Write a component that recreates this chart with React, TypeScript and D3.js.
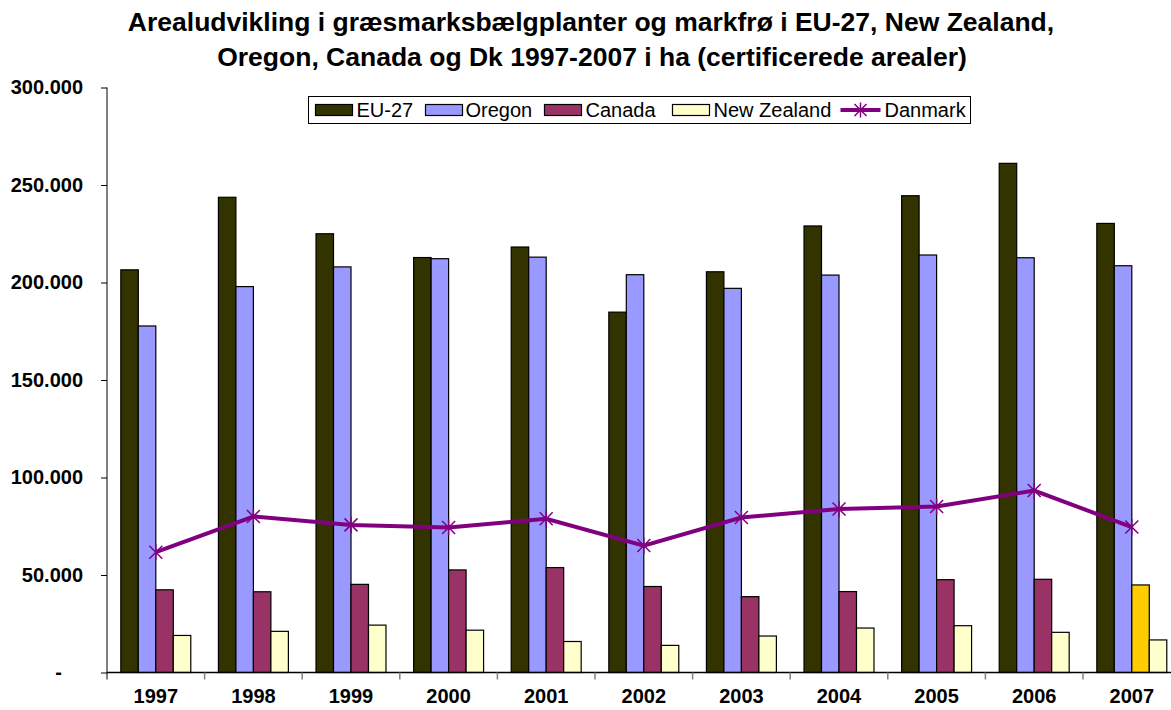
import React, { useEffect, useRef } from "react";
import * as d3 from "d3";

const years = ["1997", "1998", "1999", "2000", "2001", "2002", "2003", "2004", "2005", "2006", "2007"];
const seriesNames = ["EU-27", "Oregon", "Canada", "New Zealand"];
const eu27 = [206500, 243700, 225000, 212800, 218200, 184800, 205500, 229000, 244500, 261100, 230300];
const oregon = [177700, 197900, 208000, 212200, 213000, 204000, 197000, 203800, 214100, 212700, 208600];
const canada = [42400, 41400, 45200, 52600, 53800, 44100, 38900, 41500, 47600, 47800, 44900];
const newZealand = [19000, 21100, 24300, 21700, 15900, 13900, 18700, 22800, 24000, 20600, 16700];
const danmark = [61700, 80000, 75700, 74400, 78800, 65100, 79500, 83800, 85100, 93300, 74600];
const yTicks = [0, 50000, 100000, 150000, 200000, 250000, 300000];
const colors = ["#333300", "#9999FF", "#993366", "#FFFFCC"];
const highlightColor = "#FFCC00"; // Canada 2007 drawn in yellow in the source
const lineColor = "#800080";

const W = 1171;
const H = 710;
const font = "Arial, 'Liberation Sans', sans-serif";

export default function App() {
  const ref = useRef<SVGSVGElement>(null);

  useEffect(() => {
    const svg = d3.select(ref.current);
    svg.selectAll("*").remove();

    const left = 107, top = 87.5, bottom = 672.5;
    const step = 97.6;

    const x = d3.scaleBand().domain(years).range([left, left + step * years.length]);
    const xs = d3.scaleBand().domain(seriesNames).range([0, x.bandwidth()]).paddingOuter(0.79);
    const y = d3.scaleLinear().domain([0, 300000]).range([bottom, top]);

    const values = [eu27, oregon, canada, newZealand];

    // title
    const title = svg.append("text")
      .attr("text-anchor", "middle")
      .attr("font-family", font)
      .attr("font-weight", "bold")
      .attr("font-size", "26.5px");
    title.append("tspan").attr("x", 591).attr("y", 31)
      .text("Arealudvikling i græsmarksbælgplanter og markfrø i EU-27, New Zealand,");
    title.append("tspan").attr("x", 592).attr("y", 66)
      .text("Oregon, Canada og Dk 1997-2007 i ha (certificerede arealer)");

    // bars
    seriesNames.forEach((s, si) => {
      svg.append("g").selectAll("rect").data(values[si]).enter().append("rect")
        .attr("x", (d, i) => (x(years[i]) as number) + (xs(s) as number))
        .attr("y", d => y(d))
        .attr("width", xs.bandwidth())
        .attr("height", d => bottom - y(d))
        .attr("fill", (d, i) => (s === "Canada" && years[i] === "2007" ? highlightColor : colors[si]))
        .attr("stroke", "#000")
        .attr("stroke-width", 1.2);
    });

    // y axis
    const yAxis = d3.axisLeft(y)
      .tickValues(yTicks)
      .tickSize(6)
      .tickSizeOuter(0)
      .tickPadding(18)
      .tickFormat(d => (d === 0 ? "-" : d3.format(",")(d as number).replace(/,/g, ".")));
    const ya = svg.append("g").attr("transform", `translate(${left},0)`).call(yAxis);
    ya.select(".domain").attr("stroke", "#808080").attr("stroke-width", 2)
      .attr("d", `M0,${top}V${bottom + 7}`);
    ya.selectAll(".tick line").attr("stroke", "#000");
    ya.selectAll("text")
      .attr("font-family", font)
      .attr("font-weight", "bold")
      .attr("font-size", "20px")
      .attr("fill", "#000");
    ya.selectAll(".tick text").filter((d: any) => d === 0).attr("x", -45);

    // x axis
    const xa = svg.append("g");
    xa.append("line")
      .attr("x1", left).attr("x2", left + step * years.length)
      .attr("y1", bottom).attr("y2", bottom)
      .attr("stroke", "#000").attr("stroke-width", 1.5);
    xa.selectAll("line.tk").data(years.slice(1)).enter().append("line")
      .attr("class", "tk")
      .attr("x1", d => x(d) as number).attr("x2", d => x(d) as number)
      .attr("y1", bottom).attr("y2", bottom + 7)
      .attr("stroke", "#808080").attr("stroke-width", 1.5);
    xa.selectAll("text").data(years).enter().append("text")
      .attr("x", d => (x(d) as number) + x.bandwidth() / 2)
      .attr("y", 703)
      .attr("text-anchor", "middle")
      .attr("font-family", font)
      .attr("font-weight", "bold")
      .attr("font-size", "20px")
      .text(d => d);

    // Danmark line
    const cx = (i: number) => (x(years[i]) as number) + x.bandwidth() / 2;
    const line = d3.line<number>().x((d, i) => cx(i)).y(d => y(d));
    svg.append("path").datum(danmark)
      .attr("d", line)
      .attr("fill", "none")
      .attr("stroke", lineColor)
      .attr("stroke-width", 4);
    const star = (g: d3.Selection<SVGGElement, unknown, null, undefined>, px: number, py: number, r: number) => {
      g.append("path")
        .attr("d", `M${px - r},${py - r}L${px + r},${py + r}M${px - r},${py + r}L${px + r},${py - r}M${px},${py - r * 1.25}L${px},${py + r * 1.25}`)
        .attr("stroke", lineColor).attr("stroke-width", 1.5).attr("fill", "none");
    };
    const mk = svg.append("g");
    danmark.forEach((d, i) => star(mk, cx(i), y(d), 6.5));

    // legend
    const lg = svg.append("g").attr("transform", "translate(308.5,96.5)");
    lg.append("rect").attr("width", 662).attr("height", 27)
      .attr("fill", "#fff").attr("stroke", "#000").attr("stroke-width", 1);
    const items = [
      { name: "EU-27", sx: 7, tx: 48 },
      { name: "Oregon", sx: 117, tx: 157 },
      { name: "Canada", sx: 236, tx: 277 },
      { name: "New Zealand", sx: 364, tx: 405 },
    ];
    items.forEach((it, i) => {
      lg.append("rect").attr("x", it.sx).attr("y", 8).attr("width", 37).attr("height", 11)
        .attr("fill", colors[i]).attr("stroke", "#000").attr("stroke-width", 1.2);
      lg.append("text").attr("x", it.tx).attr("y", 20.5)
        .attr("font-family", font).attr("font-size", "20px").text(it.name);
    });
    lg.append("line").attr("x1", 532).attr("x2", 572).attr("y1", 13.5).attr("y2", 13.5)
      .attr("stroke", lineColor).attr("stroke-width", 4);
    star(lg as any, 552, 13.5, 6);
    lg.append("text").attr("x", 576).attr("y", 20.5)
      .attr("font-family", font).attr("font-size", "20px").text("Danmark");
  }, []);

  return (
    <svg ref={ref} width={W} height={H}
      style={{ position: "absolute", left: 0, top: 0, background: "#fff" }} />
  );
}
